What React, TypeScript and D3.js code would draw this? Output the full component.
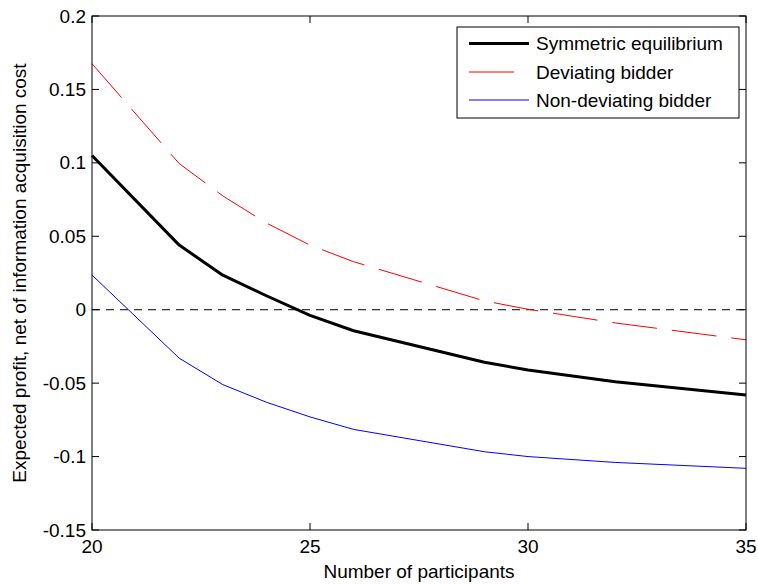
import React from "react";
import * as d3 from "d3";

const participants = [20, 22, 23, 24, 25, 26, 29, 30, 32, 35];
const symmetric = [0.105, 0.044, 0.0235, 0.0095, -0.0038, -0.0143, -0.0358, -0.041, -0.049, -0.058];
const deviating = [0.1675, 0.0995, 0.0775, 0.059, 0.044, 0.0327, 0.006, 0.0003, -0.009, -0.0205];
const nonDeviating = [0.0236, -0.033, -0.051, -0.063, -0.073, -0.0815, -0.0967, -0.1, -0.104, -0.108];

const xTicks = [20, 25, 30, 35];
const yTicks = [-0.15, -0.1, -0.05, 0, 0.05, 0.1, 0.15, 0.2];
const yTickLabels = ["-0.15", "-0.1", "-0.05", "0", "0.05", "0.1", "0.15", "0.2"];

const seriesNames = ["Symmetric equilibrium", "Deviating bidder", "Non-deviating bidder"];
const seriesColors = ["#000000", "#ff0000", "#0000ff"];
const seriesWidths = [3, 1, 1];
const seriesDash = [null, "45,15", null];

const W = 758;
const H = 584;
const M = { left: 92, right: 746, top: 16, bottom: 530 };
const FONT = "'Liberation Sans', Arial, Helvetica, sans-serif";
const FS = 19;

export default function App() {
  const x = d3.scaleLinear().domain([20, 35]).range([M.left, M.right]);
  const y = d3.scaleLinear().domain([-0.15, 0.2]).range([M.bottom, M.top]);
  const line = d3
    .line<[number, number]>()
    .x((d) => x(d[0]))
    .y((d) => y(d[1]));
  const allSeries = [symmetric, deviating, nonDeviating];
  const tickLen = 7;

  const legend = { x0: 457, y0: 27, x1: 739, y1: 118 };
  const rowY = [43.5, 72, 100];

  return (
    <svg
      width={W}
      height={H}
      style={{ position: "absolute", left: 0, top: 0, background: "#fff" }}
      fontFamily={FONT}
    >
      <rect x={0} y={0} width={W} height={H} fill="#fff" />
      {/* zero reference line */}
      <line
        x1={x(20)}
        x2={x(35)}
        y1={y(0)}
        y2={y(0)}
        stroke="#000"
        strokeWidth={1}
        strokeDasharray="8,6"
      />
      {/* series */}
      {allSeries.map((s, i) => (
        <path
          key={i}
          d={line(participants.map((p, j) => [p, s[j]] as [number, number])) || ""}
          fill="none"
          stroke={seriesColors[i]}
          strokeWidth={seriesWidths[i]}
          strokeDasharray={seriesDash[i] || undefined}
          strokeLinejoin="round"
        />
      ))}
      {/* axes box */}
      <rect
        x={M.left}
        y={M.top}
        width={M.right - M.left}
        height={M.bottom - M.top}
        fill="none"
        stroke="#000"
        strokeWidth={1}
      />
      {/* x ticks */}
      {xTicks.map((t) => (
        <g key={"x" + t}>
          <line x1={x(t)} x2={x(t)} y1={M.bottom} y2={M.bottom - tickLen} stroke="#000" />
          <line x1={x(t)} x2={x(t)} y1={M.top} y2={M.top + tickLen} stroke="#000" />
          <text x={x(t)} y={553} textAnchor="middle" fontSize={FS} fill="#000">
            {t}
          </text>
        </g>
      ))}
      {/* y ticks */}
      {yTicks.map((t, i) => (
        <g key={"y" + t}>
          <line x1={M.left} x2={M.left + tickLen} y1={y(t)} y2={y(t)} stroke="#000" />
          <line x1={M.right} x2={M.right - tickLen} y1={y(t)} y2={y(t)} stroke="#000" />
          <text x={86} y={y(t) + 6.5} textAnchor="end" fontSize={FS} fill="#000">
            {yTickLabels[i]}
          </text>
        </g>
      ))}
      {/* axis labels */}
      <text x={(M.left + M.right) / 2} y={578} textAnchor="middle" fontSize={FS} fill="#000">
        Number of participants
      </text>
      <text
        transform={`translate(26,${(M.top + M.bottom) / 2}) rotate(-90)`}
        textAnchor="middle"
        fontSize={FS}
        fill="#000"
      >
        Expected profit, net of information acquisition cost
      </text>
      {/* legend */}
      <rect
        x={legend.x0}
        y={legend.y0}
        width={legend.x1 - legend.x0}
        height={legend.y1 - legend.y0}
        fill="#fff"
        stroke="#000"
        strokeWidth={1}
      />
      {seriesNames.map((n, i) => (
        <g key={n}>
          <line
            x1={469}
            x2={529}
            y1={rowY[i]}
            y2={rowY[i]}
            stroke={seriesColors[i]}
            strokeWidth={seriesWidths[i]}
            strokeDasharray={seriesDash[i] || undefined}
          />
          <text x={536} y={rowY[i] + 6.5} fontSize={FS} fill="#000">
            {n}
          </text>
        </g>
      ))}
    </svg>
  );
}
